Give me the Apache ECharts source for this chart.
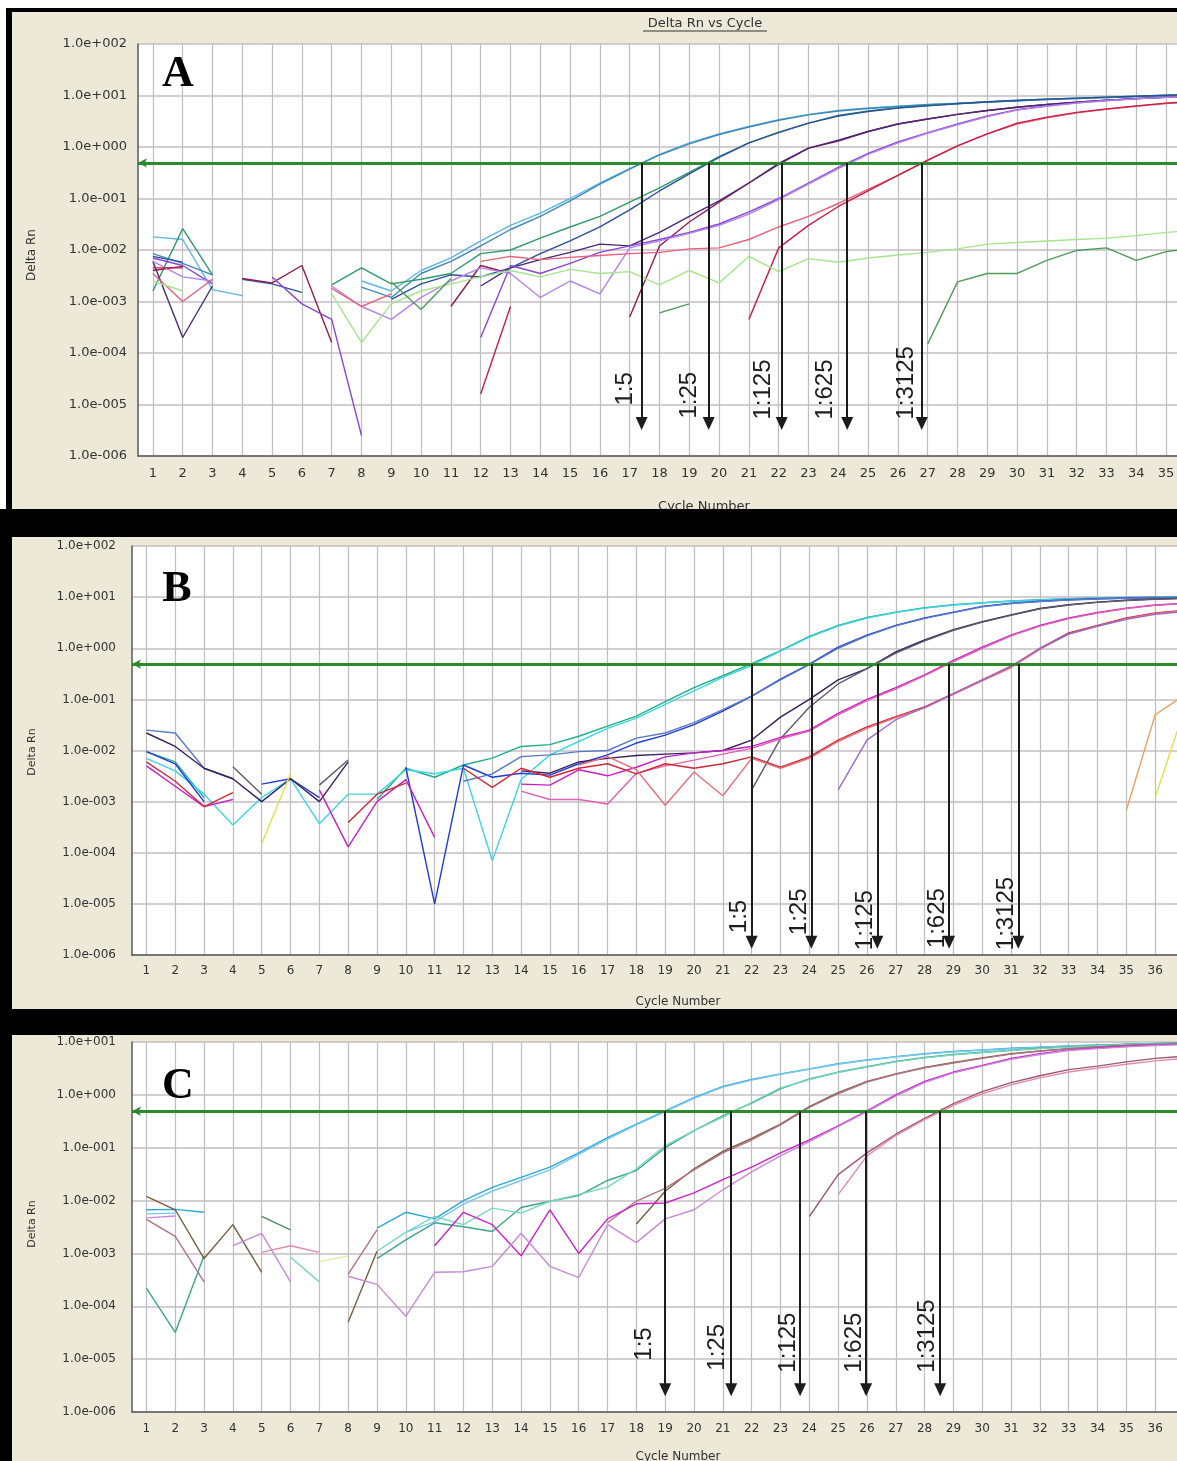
<!DOCTYPE html>
<html>
<head>
<meta charset="utf-8">
<title>Delta Rn vs Cycle</title>
<script src="https://cdn.jsdelivr.net/npm/echarts@6.0.0/dist/echarts.min.js"></script>
<style>
html,body{margin:0;padding:0;background:#ffffff;}
#chart{width:1177px;height:1461px;}
</style>
</head>
<body>
<div id="chart"></div>
<script>
const n = null;
// ===================== DATA =====================
const cyclesA  = [1,2,3,4,5,6,7,8,9,10,11,12,13,14,15,16,17,18,19,20,21,22,23,24,25,26,27,28,29,30,31,32,33,34,35,36];
const cyclesBC = [1,2,3,4,5,6,7,8,9,10,11,12,13,14,15,16,17,18,19,20,21,22,23,24,25,26,27,28,29,30,31,32,33,34,35,36,37];
const dilutionLabels = ['1:5','1:25','1:125','1:625','1:3125'];
const thresholdA = 0.49, thresholdB = 0.49, thresholdC = 0.49;
const ctA = [17.4, 19.65, 22.1, 24.3, 26.8];
const ctB = [22.0, 24.07, 26.36, 28.85, 31.25];
const ctC = [19.0, 21.29, 23.68, 25.97, 28.54];

// ---- Panel A (cycles 1..36) ----
const A_1to5_r1   = [0.018,0.016,0.0017,0.0013,n,n,n,0.0025,0.0016,0.004,0.007,0.015,0.03,0.052,0.1,0.2,0.38,0.72,1.2,1.8,2.5,3.4,4.3,5.1,5.7,6.2,6.7,7.1,7.5,7.9,8.3,8.7,9.1,9.5,9.9,10.2];
const A_1to5_r2   = [0.0085,0.0055,0.0033,n,n,n,n,0.0019,0.0012,0.0035,0.006,0.012,0.025,0.045,0.09,0.19,0.37,0.7,1.15,1.75,2.45,3.3,4.2,5.0,5.6,6.1,6.6,7.0,7.5,7.9,8.3,8.7,9.1,9.5,9.9,10.2];
const A_1to25_r1  = [0.0016,0.026,0.0033,n,n,n,0.0021,0.0045,0.0022,0.0027,0.0035,0.0085,0.01,0.017,0.028,0.045,0.085,0.16,0.32,0.65,1.2,1.95,2.9,4.1,5.0,5.8,6.4,7.0,7.6,8.1,8.5,8.9,9.3,9.7,10.1,10.4];
const A_1to25_r2  = [0.0075,0.0058,n,0.0027,0.0022,0.0015,n,n,0.0011,0.0022,0.0033,0.003,0.0045,0.0085,0.015,0.028,0.06,0.14,0.3,0.63,1.2,1.9,2.9,4.0,4.9,5.7,6.3,6.9,7.5,8.0,8.5,8.9,9.3,9.7,10.1,10.4];
const A_1to125_r1 = [0.004,0.0048,n,0.0028,0.0023,0.005,0.00016,n,n,n,0.0008,0.005,0.0035,n,n,n,0.0005,0.012,0.035,0.085,0.2,0.46,0.95,1.3,2.0,2.8,3.5,4.3,5.1,5.9,6.7,7.4,8.1,8.7,9.2,9.6];
const A_1to125_r2 = [0.006,0.0002,0.002,n,n,n,n,n,n,n,n,0.002,0.0045,0.0065,0.009,0.013,0.012,0.022,0.045,0.09,0.2,0.48,0.95,1.35,2.0,2.8,3.5,4.3,5.1,5.9,6.7,7.4,8.1,8.7,9.2,9.6];
const A_1to625_r1 = [0.007,0.005,0.0022,n,0.003,0.0009,0.00045,0.0000025,n,n,n,0.0002,0.005,0.0035,0.0055,0.009,0.012,0.016,0.022,0.032,0.055,0.1,0.2,0.4,0.75,1.25,1.9,2.8,4.0,5.3,6.3,7.2,8.0,8.7,9.3,9.7];
const A_1to625_r2 = [0.006,0.003,0.0025,n,n,n,0.002,0.0008,0.00045,0.0012,0.0025,0.0045,0.0035,0.0012,0.0025,0.0014,0.011,0.015,0.021,0.03,0.05,0.095,0.19,0.38,0.72,1.2,1.85,2.7,3.9,5.2,6.2,7.1,7.9,8.6,9.2,9.6];
const A_1to3125_r1 = [0.0035,0.001,0.0027,n,n,n,0.0018,0.0008,0.0014,n,n,0.006,0.0075,0.0065,0.0072,0.0078,0.0085,0.009,0.0105,0.011,0.016,0.028,0.045,0.08,0.15,0.28,0.56,1.05,1.8,2.8,3.7,4.6,5.4,6.2,7.0,7.6];
const A_1to3125_r2 = [0.0045,0.0045,n,n,n,n,n,n,n,n,n,0.000016,0.0008,n,n,n,n,n,n,n,0.00045,0.011,0.03,0.07,0.14,0.28,0.55,1.05,1.8,2.9,3.8,4.7,5.5,6.3,7.1,7.7];
const A_ntc_r1 = [0.0025,0.0016,n,n,n,n,0.0014,0.00016,0.0009,0.0016,0.0022,0.003,0.004,0.003,0.0042,0.0035,0.0038,0.0021,0.004,0.0023,0.0075,0.0038,0.0068,0.0058,0.007,0.008,0.009,0.0105,0.013,0.014,0.015,0.016,0.017,0.019,0.022,0.024];
const A_ntc_r2 = [n,n,n,n,n,n,n,n,0.0024,0.0007,0.0028,n,n,n,n,n,n,0.0006,0.0009,n,n,n,n,n,n,n,0.00015,0.0024,0.0035,0.0035,0.0063,0.0098,0.011,0.0063,0.0093,0.011];

// ---- Panel B (cycles 1..37) ----
const B_1to5_r1   = [0.0095,0.006,0.0012,n,n,n,n,n,0.0011,0.0045,0.003,0.0052,0.0071,0.012,0.013,0.019,0.03,0.047,0.09,0.17,0.29,0.5,0.9,1.7,2.8,4.0,5.1,6.2,7.1,7.8,8.4,8.9,9.3,9.6,9.8,10,10.1];
const B_1to5_r2   = [0.007,0.004,0.0014,0.00035,0.0012,0.0028,0.00037,0.0014,0.0014,0.0042,0.0035,0.0045,0.00007,0.0027,0.0082,0.015,0.027,0.043,0.08,0.146,0.27,0.46,0.88,1.65,2.7,3.9,5.0,6.1,7.0,7.7,8.3,8.8,9.2,9.5,9.7,9.9,10];
const B_1to25_r1  = [0.0095,0.0055,0.001,n,0.0022,0.0028,0.0012,n,n,0.0047,0.00001,0.0052,0.003,0.0036,0.0033,0.0055,0.0082,0.014,0.02,0.032,0.059,0.116,0.25,0.49,1.05,1.8,2.8,3.9,5.1,6.6,7.6,8.3,8.9,9.3,9.6,9.8,9.9];
const B_1to25_r2  = [0.025,0.022,0.0045,0.0028,n,n,n,n,n,n,n,0.0025,0.0035,0.0076,0.0082,0.0095,0.01,0.0175,0.022,0.035,0.063,0.116,0.24,0.48,1.0,1.75,2.75,3.85,5.0,6.5,7.5,8.2,8.8,9.2,9.5,9.7,9.8];
const B_1to125_r1 = [0.022,0.012,0.0045,0.0028,0.001,0.0028,0.001,0.006,n,n,n,n,n,0.004,0.0036,0.006,0.007,0.008,0.0085,0.009,0.01,0.016,0.045,0.1,0.24,0.4,0.85,1.45,2.3,3.3,4.5,6.0,7.1,8.0,8.7,9.2,9.5];
const B_1to125_r2 = [n,n,n,0.0048,0.0014,n,0.0021,0.0065,n,n,n,n,n,n,n,n,n,n,n,n,n,0.0017,0.017,0.07,0.2,0.4,0.8,1.4,2.25,3.25,4.4,5.9,7.0,7.9,8.6,9.1,9.4];
const B_1to625_r1 = [0.005,0.002,0.0008,0.0011,n,n,0.0017,0.00013,0.001,0.0027,0.0002,n,n,0.0022,0.0021,0.0042,0.0032,0.0047,0.0075,0.009,0.01,0.012,0.018,0.025,0.053,0.1,0.17,0.3,0.58,1.05,1.8,2.8,3.9,5.0,6.1,7.0,7.6];
const B_1to625_r2 = [n,n,n,n,n,n,n,n,n,n,n,n,n,0.0016,0.0011,0.0011,0.0009,0.0036,0.005,0.0065,0.0085,0.011,0.017,0.024,0.05,0.095,0.16,0.29,0.55,1.0,1.75,2.7,3.8,4.9,6.0,6.9,7.5];
const B_1to3125_r1 = [0.006,0.0025,0.0008,0.0015,n,n,n,0.00039,0.0014,0.0023,n,0.0045,0.0019,0.0045,0.003,0.0045,0.0055,0.0035,0.0055,0.0045,0.0055,0.0075,0.0047,0.0075,0.016,0.029,0.046,0.071,0.13,0.24,0.43,1.0,2.0,2.8,3.9,4.9,5.5];
const B_1to3125_r2 = [n,n,n,n,n,n,n,n,n,n,n,n,n,n,n,0.0052,0.0076,0.0042,0.00085,0.0038,0.0013,0.007,0.0045,0.007,0.015,0.027,0.044,0.068,0.125,0.23,0.42,0.95,1.9,2.7,3.8,4.8,5.4];
const B_late_r1 = [n,n,n,n,n,n,n,n,n,n,n,n,n,n,n,n,n,n,n,n,n,n,n,n,0.0017,0.016,0.04,0.07,0.13,0.24,0.45,1.0,1.9,2.7,3.7,4.6,5.2];
const B_ntc_r1 = [n,n,n,n,n,n,n,n,n,n,n,n,n,n,n,n,n,n,n,n,n,n,n,n,n,n,n,n,n,n,n,n,n,n,0.00068,0.05,0.12];
const B_ntc_r2 = [n,n,n,n,0.00015,0.0035,n,n,n,n,n,n,n,n,n,n,n,n,n,n,n,n,n,n,n,n,n,n,n,n,n,n,n,n,n,0.0012,0.06];

// ---- Panel C (cycles 1..37) ----
const C_1to5_r1   = [0.0067,0.0068,0.006,n,n,n,n,n,0.003,0.006,0.0045,0.01,0.0178,0.0275,0.043,0.08,0.155,0.28,0.5,0.89,1.45,1.95,2.5,3.1,3.9,4.6,5.3,6.0,6.6,7.1,7.6,8.0,8.4,8.8,9.1,9.4,9.6];
const C_1to5_r2   = [0.0056,0.0058,n,n,n,n,n,n,n,0.0025,0.004,0.0086,0.015,0.024,0.038,0.075,0.145,0.27,0.48,0.86,1.4,1.9,2.45,3.05,3.8,4.5,5.2,5.9,6.5,7.0,7.5,7.9,8.3,8.7,9.0,9.3,9.5];
const C_1to25_r1  = [0.00022,0.000032,0.0009,n,n,n,n,n,0.0008,0.0018,0.0038,0.0032,0.0026,0.0074,0.0097,0.0124,0.024,0.037,0.1,0.21,0.4,0.7,1.3,2.0,2.7,3.4,4.3,5.1,5.8,6.4,7.0,7.6,8.1,8.6,9.0,9.3,9.5];
const C_1to25_r2  = [n,n,n,n,n,0.00085,0.00029,n,0.0011,0.0025,0.005,0.0035,0.0072,0.0058,0.0097,0.013,0.018,0.04,0.11,0.21,0.38,0.72,1.35,1.95,2.65,3.35,4.2,5.0,5.7,6.3,6.9,7.5,8.0,8.5,8.9,9.2,9.4];
const C_1to125_r1 = [0.012,0.0067,0.0008,0.0035,0.00044,n,n,0.00005,0.0011,n,n,n,n,n,n,n,n,0.0036,0.015,0.04,0.085,0.15,0.28,0.6,1.1,1.8,2.5,3.3,4.1,5.0,6.0,6.8,7.5,8.1,8.6,9.0,9.3];
const C_1to125_r2 = [0.0044,0.0021,0.00029,n,n,n,n,0.0004,0.0028,n,n,n,n,n,n,n,0.0038,0.0098,0.017,0.038,0.08,0.14,0.27,0.58,1.05,1.75,2.45,3.25,4.0,4.9,5.9,6.7,7.4,8.0,8.5,8.9,9.2];
const C_1to625_r1 = [n,n,n,n,n,n,n,n,n,n,0.0014,0.006,0.0035,0.0009,0.0067,0.001,0.0045,0.0087,0.009,0.014,0.025,0.043,0.08,0.14,0.26,0.5,1.0,1.8,2.7,3.6,4.9,6.0,7.1,7.7,8.3,8.8,9.1];
const C_1to625_r2 = [0.0047,0.0051,n,0.0014,0.0024,0.00029,n,0.00037,0.00026,0.000065,0.00044,0.00045,0.00057,0.0024,0.00057,0.00035,0.0035,0.0016,0.0045,0.0067,0.016,0.035,0.07,0.13,0.25,0.48,0.95,1.7,2.6,3.5,4.7,5.8,6.9,7.5,8.1,8.6,8.9];
const C_1to3125_r1 = [n,n,n,n,n,n,n,n,n,n,n,n,n,n,n,n,n,n,n,n,n,n,n,0.005,0.031,0.08,0.18,0.36,0.68,1.15,1.7,2.3,3.0,3.5,4.2,4.9,5.4];
const C_1to3125_r2 = [n,n,n,n,0.00105,0.0014,0.00105,n,n,n,n,n,n,n,n,n,n,n,n,n,n,n,n,n,0.013,0.07,0.17,0.34,0.63,1.05,1.55,2.1,2.7,3.2,3.8,4.4,4.9];
const C_ntc_r1 = [n,n,n,n,0.005,0.0028,n,n,n,n,n,n,n,n,n,n,n,n,n,n,n,n,n,n,n,n,n,n,n,n,n,n,n,n,n,n,n];
const C_ntc_r2 = [n,n,n,n,n,n,0.0007,0.0009,n,n,n,n,n,n,n,n,n,n,n,n,n,n,n,n,n,n,n,n,n,n,n,n,n,n,n,n,n];

// ===================== STYLE / LAYOUT =====================
const panelA = [
  ['A_1to5_r1', A_1to5_r1, '#5cb6e8'], ['A_1to5_r2', A_1to5_r2, '#3f88b8'],
  ['A_1to25_r1', A_1to25_r1, '#2f9a6a'], ['A_1to25_r2', A_1to25_r2, '#2b4fa0'],
  ['A_1to125_r1', A_1to125_r1, '#8e1c50'], ['A_1to125_r2', A_1to125_r2, '#4a2878'],
  ['A_1to625_r1', A_1to625_r1, '#8a46d2'], ['A_1to625_r2', A_1to625_r2, '#b483ea'],
  ['A_1to3125_r1', A_1to3125_r1, '#e8607a'], ['A_1to3125_r2', A_1to3125_r2, '#c81e44'],
  ['A_ntc_r1', A_ntc_r1, '#a6e48e'], ['A_ntc_r2', A_ntc_r2, '#4f9a5a']
];
const panelB = [
  ['B_1to5_r1', B_1to5_r1, '#1fae8a'], ['B_1to5_r2', B_1to5_r2, '#3fd4e4'],
  ['B_1to25_r1', B_1to25_r1, '#1e3cd2'], ['B_1to25_r2', B_1to25_r2, '#5a78c8'],
  ['B_1to125_r1', B_1to125_r1, '#3a1e5e'], ['B_1to125_r2', B_1to125_r2, '#5c5c6c'],
  ['B_1to625_r1', B_1to625_r1, '#c81ec8'], ['B_1to625_r2', B_1to625_r2, '#e060b0'],
  ['B_1to3125_r1', B_1to3125_r1, '#d02838'], ['B_1to3125_r2', B_1to3125_r2, '#e8707a'],
  ['B_late_r1', B_late_r1, '#9a6ac8'],
  ['B_ntc_r1', B_ntc_r1, '#f0a060'], ['B_ntc_r2', B_ntc_r2, '#e6e040']
];
const panelC = [
  ['C_1to5_r1', C_1to5_r1, '#2aa8dc'], ['C_1to5_r2', C_1to5_r2, '#7cc8ee'],
  ['C_1to25_r1', C_1to25_r1, '#3aa888'], ['C_1to25_r2', C_1to25_r2, '#7ad6be'],
  ['C_1to125_r1', C_1to125_r1, '#7a5c3c'], ['C_1to125_r2', C_1to125_r2, '#b07484'],
  ['C_1to625_r1', C_1to625_r1, '#cc22cc'], ['C_1to625_r2', C_1to625_r2, '#c68ad8'],
  ['C_1to3125_r1', C_1to3125_r1, '#9c5878'], ['C_1to3125_r2', C_1to3125_r2, '#e48aa8'],
  ['C_ntc_r1', C_ntc_r1, '#4f8f5f'], ['C_ntc_r2', C_ntc_r2, '#d8f0a0']
];

function hasFont(name){
  const c = document.createElement('canvas').getContext('2d');
  const t = '1:3125 mmmWWWiii';
  c.font = '40px monospace'; const w0 = c.measureText(t).width;
  c.font = "40px '" + name + "', monospace"; const w1 = c.measureText(t).width;
  return Math.abs(w1 - w0) > 0.5;
}
const narrow = hasFont('Liberation Sans Narrow');
const dilFont = narrow ? {family: "'Liberation Sans Narrow'", size: 28} : {family: "'Liberation Sans', Arial", size: 24};

const layout = [
  {grid: {left:138, top:44, width:1043, height:412}, xMax:35.5, yMin:1e-6, yMax:100, fs:13, xMargin:11, yMargin:11,
   arrowBottom:4.27e-6, dx:[18,5,4,4,4], dy:[4,7,6,10,3]},
  {grid: {left:132, top:546, width:1052, height:409}, xMax:37, yMin:1e-6, yMax:100, fs:12, xMargin:10, yMargin:16,
   arrowBottom:1.78e-6, dx:[9,7,-8,-6,-8], dy:[0,0,0,0,0]},
  {grid: {left:132, top:1042, width:1052, height:370}, xMax:37, yMin:1e-6, yMax:10, fs:12, xMargin:11, yMargin:16,
   arrowBottom:2.64e-6, dx:[29,19,17,17,17], dy:[9,2,0,0,1]}
];

function sci(v){
  const e = Math.round(Math.log10(v));
  return '1.0e' + (e < 0 ? '-' : '+') + String(Math.abs(e)).padStart(3, '0');
}

const grids = [], xAxes = [], yAxes = [], series = [];
const panels = [panelA, panelB, panelC];
const cyclesOf = [cyclesA, cyclesBC, cyclesBC];
const cts = [ctA, ctB, ctC];
const thresholds = [thresholdA, thresholdB, thresholdC];

layout.forEach((L, gi) => {
  grids.push(Object.assign({show:true, backgroundColor:'#ffffff', borderWidth:0, containLabel:false, outerBoundsMode:'none'}, L.grid));
  xAxes.push({
    type:'value', gridIndex:gi, min:0.5, max:L.xMax, interval:0.5,
    axisLine:{show:true, onZero:false, lineStyle:{color:'#5a5a5a', width:1.5}},
    axisTick:{show:false},
    axisLabel:{show:true, margin:L.xMargin, color:'#333333', fontFamily:'DejaVu Sans', fontSize:L.fs,
      formatter: v => (Math.abs(v - Math.round(v)) < 1e-6 ? String(Math.round(v)) : '')},
    splitLine:{show:true, lineStyle:{color:['rgba(0,0,0,0)', '#bdbdbd'], width:1.2}}
  });
  yAxes.push({
    type:'log', logBase:10, gridIndex:gi, min:L.yMin, max:L.yMax, interval:1, splitNumber:8,
    axisLine:{show:true, onZero:false, lineStyle:{color:'#5a5a5a', width:1.5}},
    axisTick:{show:false},
    axisLabel:{margin:L.yMargin, color:'#333333', fontFamily:'DejaVu Sans', fontSize:L.fs, formatter: sci},
    splitLine:{show:true, lineStyle:{color:'#c6bec6', width:1.5}}
  });
  panels[gi].forEach(([name, vals, color]) => {
    series.push({
      type:'line', name, xAxisIndex:gi, yAxisIndex:gi,
      data: cyclesOf[gi].map((c, i) => [c, vals[i] == null ? null : vals[i]]),
      showSymbol:false, symbol:'none', connectNulls:false, silent:true, z:2,
      lineStyle:{color, width:1.4}, emphasis:{disabled:true}
    });
  });
  series.push({
    type:'line', name:'threshold'+gi, xAxisIndex:gi, yAxisIndex:gi, data:[], silent:true, z:4,
    markLine:{silent:true, animation:false, symbol:['arrow','none'], symbolSize:[7,9],
      lineStyle:{color:'#2b8a2b', width:3, type:'solid'}, label:{show:false}, emphasis:{disabled:true},
      data:[{yAxis: thresholds[gi]}]}
  });
  series.push({
    type:'line', name:'ct'+gi, xAxisIndex:gi, yAxisIndex:gi, data:[], silent:true, z:5,
    markLine:{silent:true, animation:false, symbol:['triangle','none'], symbolSize:[12,13],
      lineStyle:{color:'#1c1c1c', width:2, type:'solid'}, emphasis:{disabled:true},
      label:{show:true, position:'insideStartTop', color:'#1c1c1c', fontFamily:dilFont.family, fontSize:dilFont.size,
        formatter: p => p.name},
      data: cts[gi].map((ct, i) => [
        {coord:[ct, L.arrowBottom], name:dilutionLabels[i], label:{distance:[L.dx[i], L.dy[i]]}},
        {coord:[ct, thresholds[gi]]}
      ])}
  });
});

const txt = (x, y, text, font, extra) => Object.assign({type:'text', x, y, z:50, silent:true,
  style:Object.assign({text, font, fill:'#303030', align:'center', verticalAlign:'middle'}, extra || {})});
const rect = (x, y, w, h, fill) => ({type:'rect', z:100, silent:true, shape:{x, y, width:w, height:h}, style:{fill}});

const graphic = [
  txt(705, 24, 'Delta Rn vs Cycle', '13px "DejaVu Sans"'),
  {type:'line', z:50, silent:true, shape:{x1:643, y1:31, x2:767, y2:31}, style:{stroke:'#303030', lineWidth:1}},
  txt(178, 75, 'A', 'bold 44px "Liberation Serif", "Times New Roman", serif', {fill:'#000'}),
  txt(177, 590, 'B', 'bold 44px "Liberation Serif", "Times New Roman", serif', {fill:'#000'}),
  txt(178, 1087, 'C', 'bold 44px "Liberation Serif", "Times New Roman", serif', {fill:'#000'}),
  txt(704, 500, 'Cycle Number', '13px "DejaVu Sans"', {verticalAlign:'top'}),
  txt(678, 996, 'Cycle Number', '12px "DejaVu Sans"', {verticalAlign:'top'}),
  txt(678, 1451, 'Cycle Number', '12px "DejaVu Sans"', {verticalAlign:'top'}),
  Object.assign(txt(32, 255, 'Delta Rn', '12px "DejaVu Sans"'), {rotation:Math.PI/2}),
  Object.assign(txt(32, 752, 'Delta Rn', '11px "DejaVu Sans"'), {rotation:Math.PI/2}),
  Object.assign(txt(32, 1224, 'Delta Rn', '11px "DejaVu Sans"'), {rotation:Math.PI/2}),
  rect(0, 0, 1177, 8, '#ffffff'),
  rect(0, 0, 6, 509, '#ffffff'),
  rect(6, 8, 1171, 4, '#000000'),
  rect(6, 8, 6, 501, '#000000'),
  rect(0, 509, 12, 952, '#000000'),
  rect(0, 509, 1177, 28, '#000000'),
  rect(0, 1009, 1177, 26, '#000000')
];

const chart = echarts.init(document.getElementById('chart'), null, {renderer:'canvas'});
chart.setOption({
  backgroundColor:'#ece9d8',
  animation:false,
  grid:grids, xAxis:xAxes, yAxis:yAxes, series, graphic
});
</script>
</body>
</html>
